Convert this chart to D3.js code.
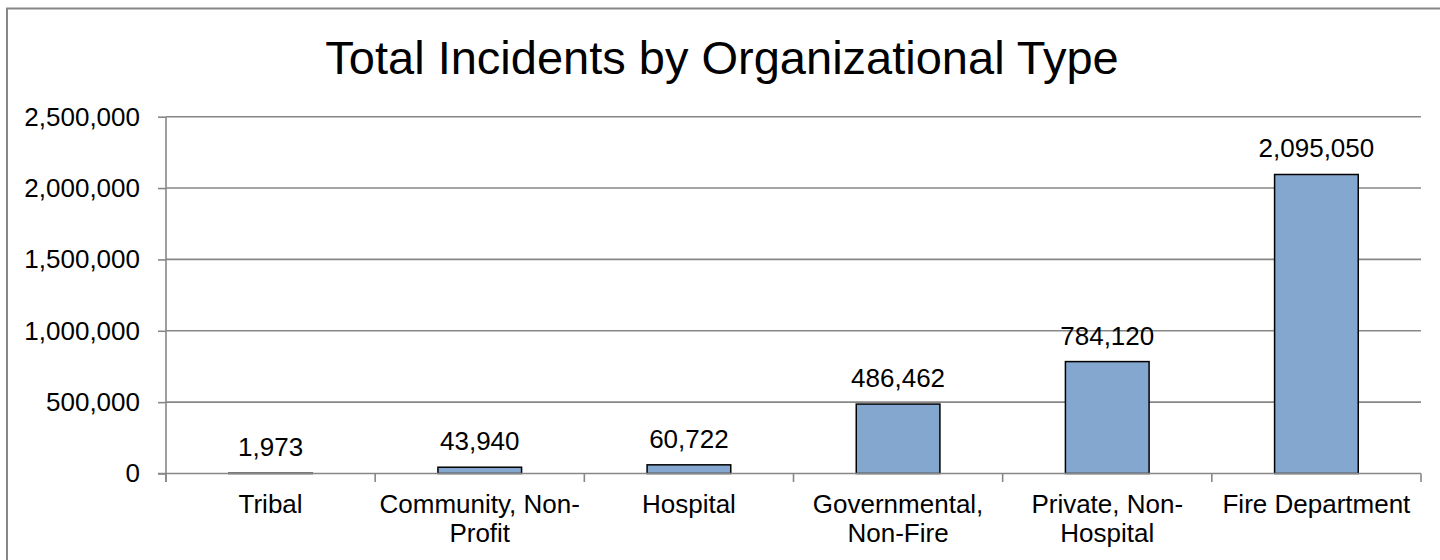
<!DOCTYPE html>
<html>
<head>
<meta charset="utf-8">
<script src="https://cdn.jsdelivr.net/npm/d3@7"></script>
<style>
  html, body { margin: 0; padding: 0; background: #fff; }
  svg { display: block; font-family: "Liberation Sans", Arial, sans-serif; }
</style>
</head>
<body>
<svg id="chart" width="1440" height="560"></svg>
<script>
const title = "Total Incidents by Organizational Type";
const categories = ["Tribal", "Community, Non-Profit", "Hospital", "Governmental, Non-Fire", "Private, Non-Hospital", "Fire Department"];
const values = [1973, 43940, 60722, 486462, 784120, 2095050];
const yTicks = [0, 500000, 1000000, 1500000, 2000000, 2500000];

(function () {
const svg = d3.select("#chart");
const W = 1440, H = 560;
const pLeft = 166, pRight = 1421, pTop = 116.7, pBottom = 473.5;
const gridColor = "#878787";
const fontFam = "'Liberation Sans', Arial, sans-serif";

svg.append("rect").attr("width", W).attr("height", H).attr("fill", "#fff");
// outer chart border (right/bottom edges beyond the view)
svg.append("rect").attr("x", 7).attr("y", 8.5).attr("width", W + 10).attr("height", H + 10)
  .attr("fill", "none").attr("stroke", gridColor).attr("stroke-width", 2);

const x = d3.scaleBand().domain(categories).range([pLeft, pRight]).paddingInner(0.6).paddingOuter(0.3);
const y = d3.scaleLinear().domain([0, 2500000]).range([pBottom, pTop]);

// title
svg.append("text").attr("x", 722).attr("y", 74)
  .attr("text-anchor", "middle").attr("font-size", 47).attr("fill", "#000").text(title);

// gridlines
svg.append("g").selectAll("line").data(yTicks.filter(d => d > 0)).join("line")
  .attr("x1", pLeft).attr("x2", pRight).attr("y1", d => y(d)).attr("y2", d => y(d))
  .attr("stroke", gridColor).attr("stroke-width", 1.6);

// y axis
const yAxis = svg.append("g").attr("transform", `translate(${pLeft},0)`)
  .call(d3.axisLeft(y).tickValues(yTicks).tickFormat(d3.format(",")).tickSize(8).tickPadding(18));
yAxis.select(".domain").remove();
yAxis.selectAll(".tick line").attr("stroke", gridColor).attr("stroke-width", 1.6);
yAxis.selectAll(".tick text").attr("font-size", 26).attr("fill", "#000").attr("font-family", fontFam);
svg.append("line").attr("x1", pLeft).attr("x2", pLeft).attr("y1", pTop).attr("y2", pBottom + 8.5)
  .attr("stroke", gridColor).attr("stroke-width", 1.6);

// bars
svg.append("g").selectAll("rect").data(values).join("rect")
  .attr("x", (d, i) => x(categories[i]))
  .attr("width", x.bandwidth())
  .attr("y", d => y(d))
  .attr("height", d => pBottom - y(d))
  .attr("fill", "#84A7D0")
  .attr("stroke", "#000").attr("stroke-width", 1.5);

// x axis line and boundary ticks
svg.append("line").attr("x1", pLeft - 8).attr("x2", pRight).attr("y1", pBottom).attr("y2", pBottom)
  .attr("stroke", gridColor).attr("stroke-width", 1.6);
const bounds = categories.map(c => x(c) - x.step() * x.paddingOuter()).concat([pRight]);
svg.append("g").selectAll("line").data(bounds).join("line")
  .attr("x1", d => d).attr("x2", d => d).attr("y1", pBottom).attr("y2", pBottom + 8.5)
  .attr("stroke", gridColor).attr("stroke-width", 1.6);

// data labels
svg.append("g").selectAll("text").data(values).join("text")
  .attr("x", (d, i) => x(categories[i]) + x.bandwidth() / 2)
  .attr("y", d => y(d) - 17)
  .attr("text-anchor", "middle").attr("font-size", 26).attr("fill", "#000")
  .text(d => d3.format(",")(d));

// category labels with wrapping
const maxW = x.step() - 2;
const lab = svg.append("g");
categories.forEach((c, i) => {
  const cx = x(c) + x.bandwidth() / 2;
  const t = lab.append("text").attr("x", cx).attr("y", 513).attr("text-anchor", "middle")
    .attr("font-size", 26).attr("fill", "#000");
  const tokens = c.match(/[^\s-]+-?\s*|\s+/g);
  let lines = [], cur = "";
  const measure = s => { t.text(s); return t.node().getComputedTextLength(); };
  tokens.forEach(tok => {
    const trial = cur + tok;
    if (cur && measure(trial.trim()) > maxW) { lines.push(cur.trim()); cur = tok; }
    else cur = trial;
  });
  if (cur.trim()) lines.push(cur.trim());
  t.text(null);
  lines.forEach((ln, j) => {
    t.append("tspan").attr("x", cx).attr("dy", j === 0 ? 0 : 29).text(ln);
  });
});
})();
</script>
</body>
</html>
